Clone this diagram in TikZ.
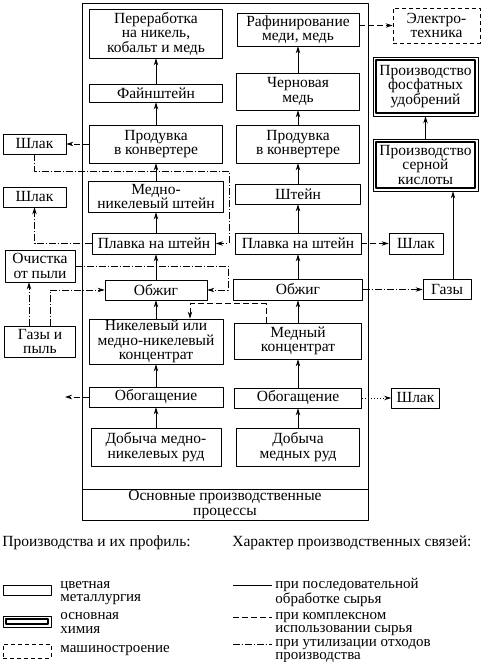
\documentclass[tikz,border=0pt]{standalone}
\usepackage{fontspec}
\setmainfont{LiberationSerif}[Extension=.ttf, UprightFont=*-Regular]
\usetikzlibrary{arrows.meta}

\tikzset{
  sz/.style 2 args={minimum width=#1bp, minimum height=#2bp},
  proc/.style={draw, inner sep=0pt, align=center},
  chem/.style={proc, line width=2.2bp, outer sep=3.4bp,
    append after command={\pgfextra{\draw[line width=0.8bp]
      ([shift={(0.4bp,-0.4bp)}]\tikzlastnode.north west) rectangle
      ([shift={(-0.4bp,0.4bp)}]\tikzlastnode.south east);}}},
  mash/.style={proc, dash pattern=on 4bp off 3bp},
  txt/.style={inner sep=0pt, align=left, anchor=west},
  legtxt/.style={txt, font=\fontsize{15bp}{13.5bp}\selectfont},
  seq/.style={solid},
  compl/.style={dash pattern=on 6bp off 3bp},
  util/.style={dash pattern=on 7bp off 2bp on 1bp off 2bp},
  dots/.style={dash pattern=on 1bp off 2bp},
}

\begin{document}
\begin{tikzpicture}[>={Stealth[length=7bp,width=4.5bp]},line join=bevel,
  font=\fontsize{15.5bp}{14.5bp}\selectfont]
  \pgfsetlinewidth{0.8bp}
  \useasboundingbox (0bp,0bp) rectangle (486bp,662bp);
%%
  % Frame: main processes
  \draw (82bp,142bp) rectangle (368bp,659bp);
  \draw (82bp,173bp) -- (368bp,173bp);
  \node[align=center] (osn) at (225bp,157.5bp) {Основные производственные\\процессы};
  % Node: pererab
  \node[proc, sz={133}{49}] (pererab) at (156bp,628.5bp) {Переработка\\на никель,\\кобальт и медь};
  % Node: fain
  \node[proc, sz={133}{18}] (fain) at (156bp,569bp) {Файнштейн};
  % Node: produvL
  \node[proc, sz={133}{38}] (produvL) at (156bp,518bp) {Продувка\\в конвертере};
  % Node: mnshtein
  \node[proc, sz={135}{31}] (mnshtein) at (156bp,465.5bp) {Медно-\\никелевый штейн};
  % Node: plavL
  \node[proc, sz={123}{21}] (plavL) at (154bp,418.5bp) {Плавка на штейн};
  % Node: obzhL
  \node[proc, sz={102}{20}] (obzhL) at (156bp,372bp) {Обжиг};
  % Node: nikconc
  \node[proc, sz={134}{45}] (nikconc) at (156bp,320.5bp) {Никелевый или\\медно-никелевый\\концентрат};
  % Node: obogL
  \node[proc, sz={134}{20}] (obogL) at (156bp,265bp) {Обогащение};
  % Node: dobL
  \node[proc, sz={130}{38}] (dobL) at (156bp,215bp) {Добыча медно-\\никелевых руд};
  % Node: rafin
  \node[proc, sz={122}{33}] (rafin) at (298bp,632.5bp) {Рафинирование\\меди, медь};
  % Node: chern
  \node[proc, sz={123}{37}] (chern) at (298bp,570.5bp) {Черновая\\медь};
  % Node: produvR
  \node[proc, sz={123}{38}] (produvR) at (298bp,518bp) {Продувка\\в конвертере};
  % Node: shtein
  \node[proc, sz={125}{20}] (shtein) at (298bp,468bp) {Штейн};
  % Node: plavR
  \node[proc, sz={126}{21}] (plavR) at (298bp,418.5bp) {Плавка на штейн};
  % Node: obzhR
  \node[proc, sz={129}{21}] (obzhR) at (298bp,372.5bp) {Обжиг};
  % Node: medconc
  \node[proc, sz={127}{36}] (medconc) at (298bp,321bp) {Медный\\концентрат};
  % Node: obogR
  \node[proc, sz={127}{20}] (obogR) at (298bp,264bp) {Обогащение};
  % Node: dobR
  \node[proc, sz={123}{38}] (dobR) at (298bp,215bp) {Добыча\\медных руд};
  % Node: shlak1
  \node[proc, sz={63}{20}] (shlak1) at (34.5bp,518bp) {Шлак};
  % Node: shlak2
  \node[proc, sz={63}{20}] (shlak2) at (34.5bp,465bp) {Шлак};
  % Node: ochist
  \node[proc, sz={70}{32}] (ochist) at (40bp,396bp) {Очистка\\от пыли};
  % Node: gazpyl
  \node[proc, sz={71}{31}] (gazpyl) at (40bp,320.5bp) {Газы и\\пыль};
  % Node: elektro
  \node[mash, sz={87}{35}] (elektro) at (436.5bp,636.5bp) {Электро-\\техника};
  % Node: fosf
  \node[chem, sz={99}{53}] (fosf) at (425.5bp,575.5bp) {Производство\\фосфатных\\удобрений};
  % Node: kisl
  \node[chem, sz={99}{46}] (kisl) at (425.5bp,497bp) {Производство\\серной\\кислоты};
  % Node: shlak3
  \node[proc, sz={54}{21}] (shlak3) at (416bp,418.5bp) {Шлак};
  % Node: gazy
  \node[proc, sz={48}{20}] (gazy) at (447bp,372.5bp) {Газы};
  % Node: shlak4
  \node[proc, sz={48}{20}] (shlak4) at (415.5bp,264bp) {Шлак};
  \coordinate (obogout) at (65bp,265bp);
%%
  % Edge: dobL -> obogL
  \draw[seq,->] (dobL) -- (obogL);
  % Edge: obogL -> nikconc
  \draw[seq,->] (obogL) -- (nikconc);
  % Edge: nikconc -> obzhL
  \draw[seq,->] (nikconc) -- (obzhL);
  % Edge: obzhL -> plavL
  \draw[seq,->] (obzhL.north) -- (obzhL.north |- plavL.south);
  % Edge: plavL -> mnshtein
  \draw[seq,->] (mnshtein.south |- plavL.north) -- (mnshtein.south);
  % Edge: mnshtein -> produvL
  \draw[seq,->] (mnshtein) -- (produvL);
  % Edge: produvL -> fain
  \draw[seq,->] (produvL) -- (fain);
  % Edge: fain -> pererab
  \draw[seq,->] (fain) -- (pererab);
  % Edge: dobR -> obogR
  \draw[seq,->] (dobR) -- (obogR);
  % Edge: obogR -> medconc
  \draw[seq,->] (obogR) -- (medconc);
  % Edge: medconc -> obzhR
  \draw[seq,->] (medconc) -- (obzhR);
  % Edge: obzhR -> plavR
  \draw[seq,->] (obzhR) -- (plavR);
  % Edge: plavR -> shtein
  \draw[seq,->] (plavR) -- (shtein);
  % Edge: shtein -> produvR
  \draw[seq,->] (shtein) -- (produvR);
  % Edge: produvR -> chern
  \draw[seq,->] (produvR) -- (chern);
  % Edge: chern -> rafin
  \draw[seq,->] (chern) -- (rafin);
  % Edge: produvL -> shlak1
  \draw[compl,->] (produvL.west) -- (shlak1.east);
  % Edge: shlak1 -> plavL
  \draw[util,->] (shlak1.south) -- ++(0,-17bp) -| ([xshift=13bp]plavL.east) -- (plavL.east);
  % Edge: plavL -> shlak2
  \draw[util,->] (plavL.west) -| (shlak2.south);
  % Edge: ochist -> obzhL
  \draw[util,->] (ochist.east) -| ([xshift=21bp]obzhL.east) -- (obzhL.east);
  % Edge: gazpyl -> ochist
  \draw[util,->] ([xshift=-11bp]gazpyl.north) -- ([xshift=-11bp]ochist.south);
  % Edge: gazpyl -> obzhL
  \draw[util,->] ([xshift=10bp]gazpyl.north) |- (obzhL.west);
  % Edge: medconc -> nikconc
  \draw[compl,->] ([xshift=-32bp]medconc.north) -- ++(0,19bp) -| ([xshift=34bp]nikconc.north);
  % Edge: obogL -> obogout
  \draw[compl,->] (obogL.west) -- (obogout);
  % Edge: rafin -> elektro
  \draw[compl,->] (rafin.east |- elektro.west) -- (elektro.west);
  % Edge: plavR -> shlak3
  \draw[compl,->] (plavR.east) -- (shlak3.west);
  % Edge: obzhR -> gazy
  \draw[util,->] (obzhR.east) -- (gazy.west);
  % Edge: gazy -> kisl
  \draw[seq,->] ([xshift=6bp]gazy.north) -- ([xshift=6bp]gazy.north |- kisl.south);
  % Edge: kisl -> fosf
  \draw[seq,->] (kisl.north) -- (fosf.south);
  % Edge: obogR -> shlak4
  \draw[dots,->] (obogR.east) -- (shlak4.west);
%%
  % Legend: profile
  \node[txt] (hdrA) at (2bp,119bp) {Производства и их профиль:};
  \node[proc, sz={48}{10}] (legA) at (27bp,72bp) {};
  \node[legtxt] (legAt) at (60bp,69bp) {цветная\\металлургия};
  \node[chem, sz={42}{5}] (legB) at (27bp,40.5bp) {};
  \node[legtxt] (legBt) at (60bp,39bp) {основная\\химия};
  \node[mash, sz={48}{14}] (legC) at (27bp,11bp) {};
  \node[legtxt] (legCt) at (60bp,11bp) {машиностроение};
  % Legend: links
  \node[txt] (hdrB) at (232bp,119bp) {Характер производственных связей:};
  \coordinate (lnA1) at (233bp,77bp);
  \coordinate (lnA2) at (272bp,77bp);
  \draw[seq] (lnA1) -- (lnA2);
  \node[legtxt] (lnAt) at (275bp,70bp) {при последовательной\\обработке сырья};
  \coordinate (lnB1) at (233bp,45bp);
  \coordinate (lnB2) at (272bp,45bp);
  \draw[compl] (lnB1) -- (lnB2);
  \node[legtxt] (lnBt) at (275bp,38bp) {при комплексном\\использовании сырья};
  \coordinate (lnC1) at (233bp,18bp);
  \coordinate (lnC2) at (272bp,18bp);
  \draw[util] (lnC1) -- (lnC2);
  \node[legtxt] (lnCt) at (275bp,11bp) {при утилизации отходов\\производства};
%
\end{tikzpicture}
\end{document}
